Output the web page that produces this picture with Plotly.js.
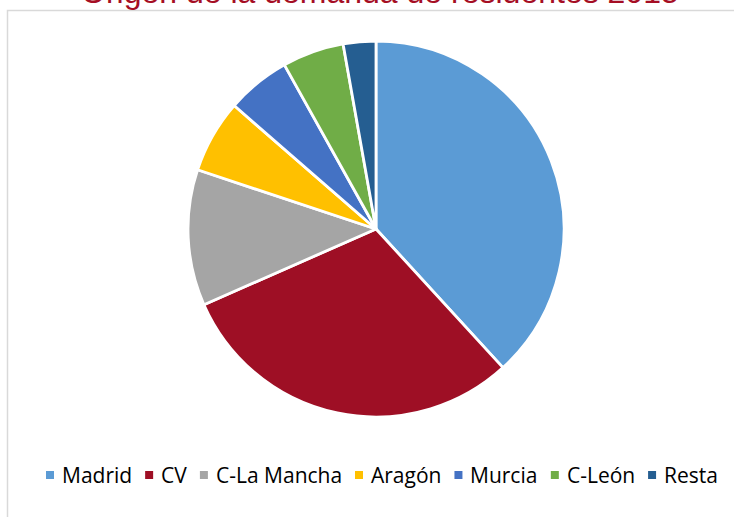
<!DOCTYPE html>
<html>
<head>
<meta charset="utf-8">
<script src="https://cdn.plot.ly/plotly-3.0.1.min.js"></script>
<style>
html,body{margin:0;padding:0;background:#fff;}
#chart{width:734px;height:517px;}
</style>
</head>
<body>
<div id="chart"></div>
<script>
var titleText = "Origen de la demanda de residentes 2015";
var categories = ["Madrid", "CV", "C-La Mancha", "Aragón", "Murcia", "C-León", "Resta"];
var shares = [38.2, 30.2, 11.7, 6.3, 5.5, 5.3, 2.8];
var sliceColors = ["#5B9BD5", "#9E0F25", "#A5A5A5", "#FFC000", "#4472C4", "#70AD47", "#255E91"];

var W = 734, H = 517;
var cx = 376, cy = 229, r = 188;

var trace = {
  type: "pie",
  labels: categories,
  values: shares,
  sort: false,
  direction: "clockwise",
  rotation: 0,
  textinfo: "none",
  hoverinfo: "label+percent",
  showlegend: false,
  marker: { colors: sliceColors, line: { color: "#ffffff", width: 2.8 } },
  domain: {
    x: [(cx - r) / W, (cx + r) / W],
    y: [(H - (cy + r)) / H, (H - (cy - r)) / H]
  }
};

/* Legend laid out from the category labels and colours */
var legFont = "Open Sans";
var legSize = 21;
var canvas = document.createElement("canvas");
var ctx = canvas.getContext("2d");
ctx.font = legSize + "px '" + legFont + "'";
var box = 8, symGap = 8, itemGap = 13, legY = 475;
var widths = categories.map(function (c) { return ctx.measureText(c).width; });
var total = 0;
widths.forEach(function (w, i) { total += box + symGap + w + (i < widths.length - 1 ? itemGap : 0); });
var xPos = 382 - total / 2;

var shapes = [{
  type: "rect", xref: "paper", yref: "paper",
  x0: 7.5 / W, x1: 1.05, y0: -0.05, y1: 1 - 10.5 / H,
  line: { color: "#D9D9D9", width: 1.5 }, fillcolor: "rgba(0,0,0,0)"
}];
var annotations = [{
  text: titleText,
  xref: "paper", yref: "paper",
  x: 380 / W, xanchor: "center",
  y: 1 - 12 / H, yanchor: "bottom",
  showarrow: false,
  font: { family: "Liberation Sans, Arial, sans-serif", size: 32, color: "#A50E24" }
}];

categories.forEach(function (c, i) {
  shapes.push({
    type: "rect", xref: "paper", yref: "paper",
    x0: xPos / W, x1: (xPos + box) / W,
    y0: 1 - (legY + box / 2) / H, y1: 1 - (legY - box / 2) / H,
    line: { width: 0 }, fillcolor: sliceColors[i]
  });
  xPos += box + symGap;
  annotations.push({
    text: c, xref: "paper", yref: "paper",
    x: (xPos - 1) / W, xanchor: "left",
    y: 1 - legY / H, yanchor: "middle",
    showarrow: false, borderpad: 0,
    font: { family: legFont + ", sans-serif", size: legSize, color: "#000000" }
  });
  xPos += widths[i] + itemGap;
});

var layout = {
  width: W,
  height: H,
  margin: { l: 0, r: 0, t: 0, b: 0 },
  paper_bgcolor: "#ffffff",
  showlegend: false,
  shapes: shapes,
  annotations: annotations
};

Plotly.newPlot("chart", [trace], layout, { displayModeBar: false, staticPlot: true });
</script>
</body>
</html>
